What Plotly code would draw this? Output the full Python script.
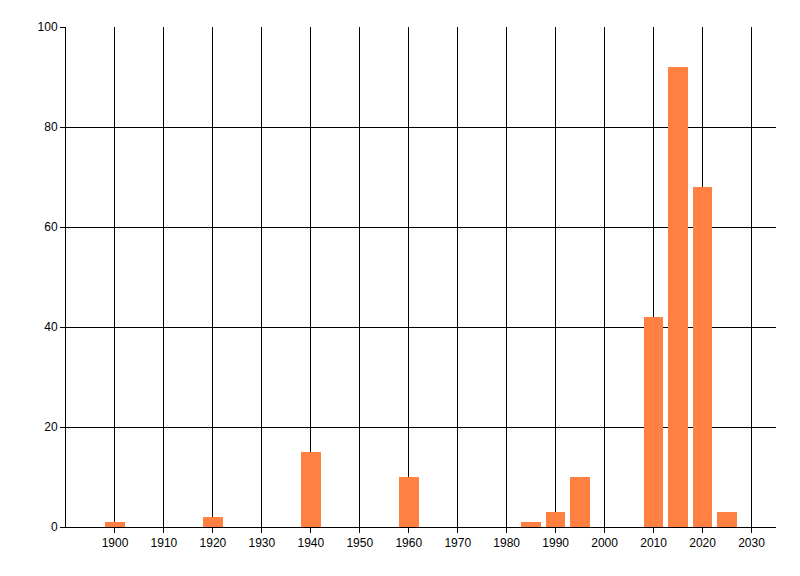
import plotly.graph_objects as go

# values
years = [1900, 1920, 1940, 1960, 1985, 1990, 1995, 2010, 2015, 2020, 2025]
counts = [1, 2, 15, 10, 1, 3, 10, 42, 92, 68, 3]
x_ticks = list(range(1900, 2031, 10))
y_ticks = [0, 20, 40, 60, 80, 100]

fig = go.Figure(go.Bar(x=years, y=counts, width=4,
                       marker=dict(color='#FF8040', line=dict(width=0))))

# the page adds an 8px body margin, so the figure is 8px smaller here
fig.update_layout(
    width=792, height=568,
    margin=dict(l=58, r=24, t=19, b=49),
    paper_bgcolor='white', plot_bgcolor='white',
    font=dict(family='Liberation Sans', size=12, color='black'),
    showlegend=False,
    bargap=0,
)
fig.update_xaxes(range=[1890, 2035], tickvals=x_ticks,
                 showgrid=True, gridcolor='black', gridwidth=1,
                 showline=True, linecolor='black', linewidth=1,
                 ticks='outside', ticklen=5, tickcolor='black',
                 zeroline=False)
fig.update_yaxes(range=[0, 100], tickvals=y_ticks,
                 showgrid=True, gridcolor='black', gridwidth=1,
                 showline=True, linecolor='black', linewidth=1,
                 ticks='outside', ticklen=5, tickcolor='black',
                 zeroline=False)

fig.write_html("out.html")
